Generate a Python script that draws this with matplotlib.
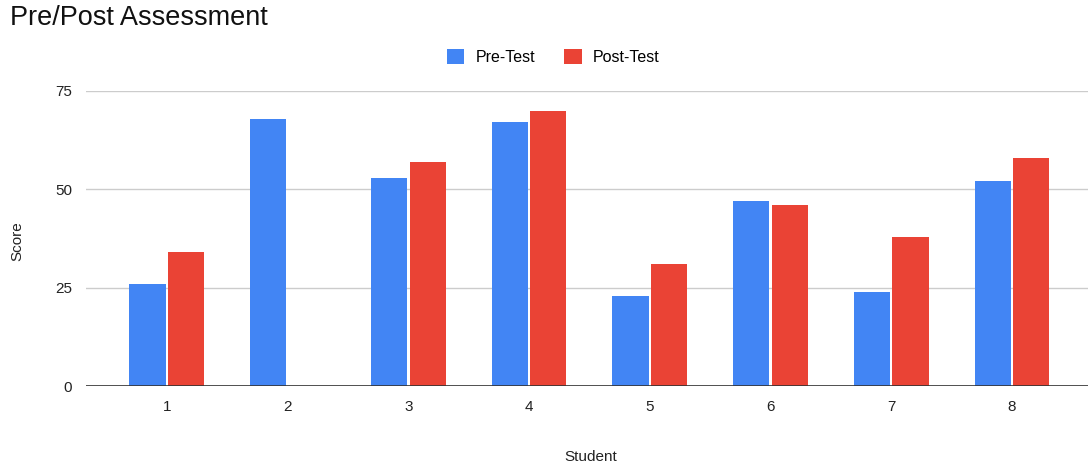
import numpy as np
import matplotlib
matplotlib.use('Agg')
import matplotlib.pyplot as plt
from matplotlib.patches import Patch

plt.rcParams['font.family'] = ['Liberation Sans', 'DejaVu Sans']

students = ['1', '2', '3', '4', '5', '6', '7', '8']
pre_test = [26, 68, 53, 67, 23, 47, 24, 52]
post_test = [34, np.nan, 57, 70, 31, 46, 38, 58]

blue = '#4285F4'
red = '#EA4335'

fig = plt.figure(figsize=(10.89, 4.62), dpi=100)
ax = fig.add_axes([86 / 1089, 1 - 386 / 462, 1002 / 1089, (386 - 91) / 462])

x = np.arange(len(students))
w = 0.30
ax.bar(x - 0.16, pre_test, width=w, color=blue, zorder=3)
ax.bar(x + 0.16, post_test, width=w, color=red, zorder=3)

ax.set_ylim(0, 75)
ax.set_xlim(-0.67, 7.63)
ax.set_yticks([0, 25, 50, 75])
ax.set_xticks(x)
ax.set_xticklabels(students)
ax.grid(True, axis='y', color='#cccccc', linewidth=1, zorder=0)
ax.axhline(0, color='#333333', linewidth=1.2, zorder=4)
for s in ax.spines.values():
    s.set_visible(False)
ax.tick_params(axis='both', length=0, labelsize=11, colors='#222222')
ax.tick_params(axis='y', pad=10)
ax.tick_params(axis='x', pad=10)

ax.set_xlabel('Student', fontsize=11, color='#222222')
ax.set_ylabel('Score', fontsize=11, color='#222222')
ax.xaxis.set_label_coords(0.504, -(450 - 386) / 295)
ax.yaxis.set_label_coords(-(86 - 24) / 1002, 0.49)

fig.text(10 / 1089, 1 - 18 / 462, 'Pre/Post Assessment', fontsize=19.5,
         ha='left', va='center', color='#111111')

handles = [Patch(facecolor=blue, label='Pre-Test'),
           Patch(facecolor=red, label='Post-Test')]
fig.legend(handles=handles, loc='center', bbox_to_anchor=(0.508, 1 - 57 / 462),
           ncol=2, frameon=False, fontsize=11.5, handlelength=1.1,
           handleheight=1.1, handletextpad=0.7, columnspacing=1.8)

fig.savefig('out.png', dpi=100, facecolor='white')
